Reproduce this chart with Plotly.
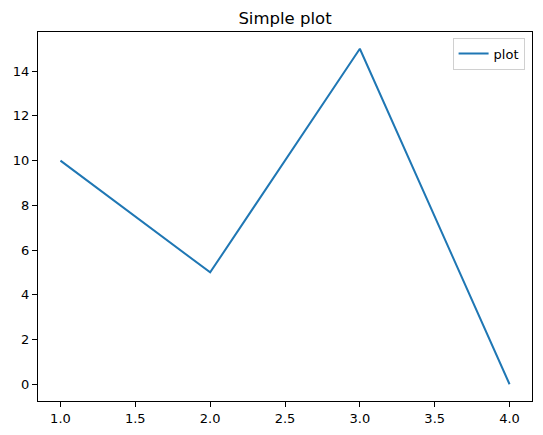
import plotly.graph_objects as go

x = [1, 2, 3, 4]
y = [10, 5, 15, 0]
series_name = "plot"

fig = go.Figure()
fig.add_trace(go.Scatter(x=x, y=y, mode="lines", name=series_name,
                         line=dict(color="#1f77b4", width=2)))

axis_style = dict(showgrid=False, zeroline=False, showline=True, mirror=True,
                  linecolor="black", linewidth=1, ticks="outside", ticklen=5,
                  tickcolor="black", automargin=False,
                  tickfont=dict(size=13, color="black"))

fig.update_xaxes(range=[0.85, 4.15], tickvals=[1.0, 1.5, 2.0, 2.5, 3.0, 3.5, 4.0],
                 ticktext=["1.0", "1.5", "2.0", "2.5", "3.0", "3.5", "4.0"], **axis_style)
fig.update_yaxes(range=[-0.75, 15.75], tickvals=[0, 2, 4, 6, 8, 10, 12, 14], **axis_style)

# page body has an 8px margin, so the figure is shrunk to fit the window
fig.update_layout(
    width=535, height=427,
    margin=dict(l=30, r=11, t=24, b=34),
    paper_bgcolor="white", plot_bgcolor="white",
    font=dict(family="DejaVu Sans", color="black"),
    title=dict(text="Simple plot", x=0.5, xref="paper", y=1 - 10 / 427, yref="container",
               xanchor="center", yanchor="middle", font=dict(size=16.5)),
    showlegend=True,
    legend=dict(x=0.985, y=0.985, xanchor="right", yanchor="top",
                bordercolor="#d0d0d0", borderwidth=1, bgcolor="white",
                font=dict(size=13)),
)

fig.write_html("out.html")
